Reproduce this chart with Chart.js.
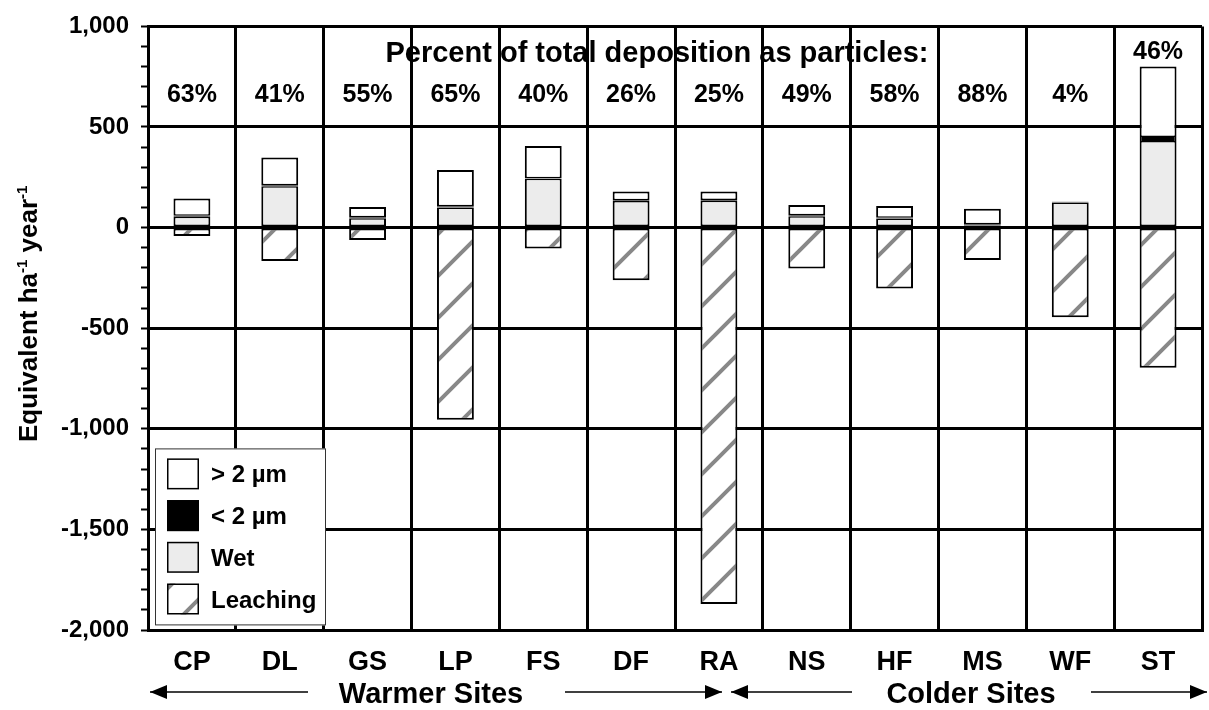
<!DOCTYPE html>
<html lang="en">
<head>
<meta charset="UTF-8">
<title>Deposition and leaching by site</title>
<style>
  html, body { margin: 0; padding: 0; background: #fff; }
  #chart { display: block; }
</style>
</head>
<body>
<canvas id="chart" width="1209" height="710"></canvas>

<script src="https://cdn.jsdelivr.net/npm/chart.js"></script>
<script>
// Sites, warmer to colder
const sites = ['CP', 'DL', 'GS', 'LP', 'FS', 'DF', 'RA', 'NS', 'HF', 'MS', 'WF', 'ST'];
// Inputs (positive) and leaching (negative), equivalent ha-1 year-1
const wet      = [54, 205, 46, 100, 243, 132, 133, 57, 45, 11, 125, 430];
const fine     = [5, 6, 5, 6, 2, 4, 4, 4, 4, 6, 4, 20];
const coarse   = [86, 137, 51, 180, 160, 43, 42, 51, 58, 77, 1, 351];
const leaching = [-42, -166, -62, -955, -104, -262, -1871, -203, -303, -161, -446, -696];
// Percent of total deposition as particles
const particlePct = ['63%', '41%', '55%', '65%', '40%', '26%', '25%', '49%', '58%', '88%', '4%', '46%'];

const FONT = 'Liberation Sans';

// diagonal hatch used for leaching
function makeHatch() {
    const c = document.createElement('canvas');
    c.width = 42;
    c.height = 42;
    const g = c.getContext('2d');
    g.fillStyle = '#fff';
    g.fillRect(0, 0, 42, 42);
    g.strokeStyle = '#888';
    g.lineWidth = 4;
    g.beginPath();
    g.moveTo(-4, 46); g.lineTo(46, -4);
    g.moveTo(-25, 25); g.lineTo(25, -25);
    g.moveTo(17, 67); g.lineTo(67, 17);
    g.stroke();
    return document.getElementById('chart').getContext('2d').createPattern(c, 'repeat');
}
const hatch = makeHatch();

const side = { left: 2, right: 2 };

// percent labels + heading above the bars
const percentPlugin = {
    id: 'percentLabels',
    afterDatasetsDraw(chart) {
        const ctx = chart.ctx;
        const x = chart.scales.x, y = chart.scales.y;
        const area = chart.chartArea;
        ctx.save();
        ctx.fillStyle = '#000';
        ctx.textAlign = 'center';
        ctx.textBaseline = 'alphabetic';
        ctx.font = 'bold 29px "' + FONT + '"';
        ctx.fillText('Percent of total deposition as particles:', area.left + 509, 62);
        ctx.font = 'bold 25px "' + FONT + '"';
        particlePct.forEach((p, i) => {
            const top = y.getPixelForValue(wet[i] + fine[i] + coarse[i]);
            let base = 102;
            if (top < base + 8) base = top - 7;
            ctx.fillText(p, x.getPixelForValue(i), base);
        });
        ctx.restore();
    }
};

// legend box inside the plot
const legendBox = {
    id: 'legendBox',
    afterDatasetsDraw(chart) {
        const ctx = chart.ctx;
        const area = chart.chartArea;
        const bx = area.left + 7, by = area.top + 422;
        ctx.save();
        ctx.fillStyle = '#fff';
        ctx.fillRect(bx, by, 171, 177);
        ctx.strokeStyle = '#333';
        ctx.lineWidth = 1;
        ctx.strokeRect(bx + 0.5, by + 0.5, 170, 176);
        const order = [2, 1, 0, 3];
        ctx.font = 'bold 24px "' + FONT + '"';
        ctx.textAlign = 'left';
        ctx.textBaseline = 'alphabetic';
        order.forEach((di, k) => {
            const ds = chart.data.datasets[di];
            const sy = by + 10 + k * 41.7;
            ctx.fillStyle = ds.backgroundColor;
            ctx.fillRect(bx + 12, sy, 32, 31);
            ctx.strokeStyle = '#000';
            ctx.lineWidth = 1.5;
            ctx.strokeRect(bx + 12.75, sy + 0.75, 30.5, 29.5);
            ctx.fillStyle = '#000';
            ctx.fillText(ds.label, bx + 56, sy + 24);
        });
        ctx.restore();
    }
};

// y title with superscripts, plus site-group arrows under the axis
const extras = {
    id: 'extras',
    afterDraw(chart) {
        const ctx = chart.ctx;
        ctx.save();
        // y title
        ctx.translate(37, 442);
        ctx.rotate(-Math.PI / 2);
        ctx.fillStyle = '#000';
        ctx.textBaseline = 'alphabetic';
        ctx.textAlign = 'left';
        const parts = [['Equivalent ha', 0], ['-1', 1], [' year', 0], ['-1', 1]];
        let cx = 0;
        parts.forEach(([t, sup]) => {
            ctx.font = sup ? 'bold 15px "' + FONT + '"' : 'bold 26px "' + FONT + '"';
            ctx.fillText(t, cx, sup ? -10 : 0);
            cx += ctx.measureText(t).width;
        });
        ctx.restore();

        // arrows
        ctx.save();
        const ay = 692;
        ctx.strokeStyle = '#000';
        ctx.fillStyle = '#000';
        ctx.lineWidth = 1.5;
        const arrows = [[150, 308, -1], [565, 722, 1], [731, 852, -1], [1091, 1207, 1]];
        arrows.forEach(([a, b, dir]) => {
            ctx.beginPath();
            ctx.moveTo(a, ay); ctx.lineTo(b, ay);
            ctx.stroke();
            const tip = dir < 0 ? a : b;
            ctx.beginPath();
            ctx.moveTo(tip, ay);
            ctx.lineTo(tip - dir * 17, ay - 7);
            ctx.lineTo(tip - dir * 17, ay + 7);
            ctx.closePath();
            ctx.fill();
        });
        ctx.font = 'bold 29px "' + FONT + '"';
        ctx.textAlign = 'center';
        ctx.textBaseline = 'alphabetic';
        ctx.fillText('Warmer Sites', 431, 703);
        ctx.fillText('Colder Sites', 971, 703);
        ctx.restore();
    }
};

new Chart(document.getElementById('chart'), {
    type: 'bar',
    data: {
        labels: sites,
        datasets: [
            {
                label: 'Wet', data: wet, backgroundColor: '#ececec', borderColor: '#000',
                borderWidth: { ...side, top: 1.5, bottom: 1.5 }, borderSkipped: false
            },
            {
                label: '< 2 µm', data: fine, backgroundColor: '#000', borderColor: '#000',
                borderWidth: { ...side, top: 0, bottom: 0 }, borderSkipped: false
            },
            {
                label: '> 2 µm', data: coarse, backgroundColor: '#fff', borderColor: '#000',
                borderWidth: { ...side, top: 2, bottom: 1.5 }, borderSkipped: false
            },
            {
                label: 'Leaching', data: leaching, backgroundColor: hatch, borderColor: '#000',
                borderWidth: { ...side, top: 1.5, bottom: 2 }, borderSkipped: false
            }
        ]
    },
    options: {
        responsive: false,
        animation: false,
        devicePixelRatio: 1,
        layout: { padding: { left: 0, top: 26, right: 7, bottom: 0 } },
        datasets: { bar: { barPercentage: 0.42, categoryPercentage: 1 } },
        plugins: {
            legend: { display: false },
            tooltip: { enabled: false }
        },
        scales: {
            x: {
                stacked: true,
                grid: { color: '#000', lineWidth: 3, drawTicks: false, offset: true },
                border: { color: '#000', width: 3 },
                ticks: { color: '#000', font: { family: FONT, size: 27, weight: 'bold' }, padding: 16 },
                afterFit: s => { s.height = 80; }
            },
            y: {
                stacked: true,
                min: -2000,
                max: 1000,
                ticks: {
                    stepSize: 100,
                    autoSkip: false,
                    color: '#000',
                    padding: 12,
                    font: { family: FONT, size: 24, weight: 'bold' },
                    callback: v => (v % 500 === 0 ? v.toLocaleString('en-US') : '')
                },
                grid: {
                    color: c => (c.tick && c.tick.value % 500 === 0 ? '#000' : 'rgba(0,0,0,0)'),
                    lineWidth: 3,
                    tickColor: '#000',
                    tickLength: 7,
                    tickWidth: 2
                },
                border: { color: '#000', width: 3 },
                afterFit: s => { s.width = 148; }
            }
        }
    },
    plugins: [percentPlugin, legendBox, extras]
});
</script>
</body>
</html>
